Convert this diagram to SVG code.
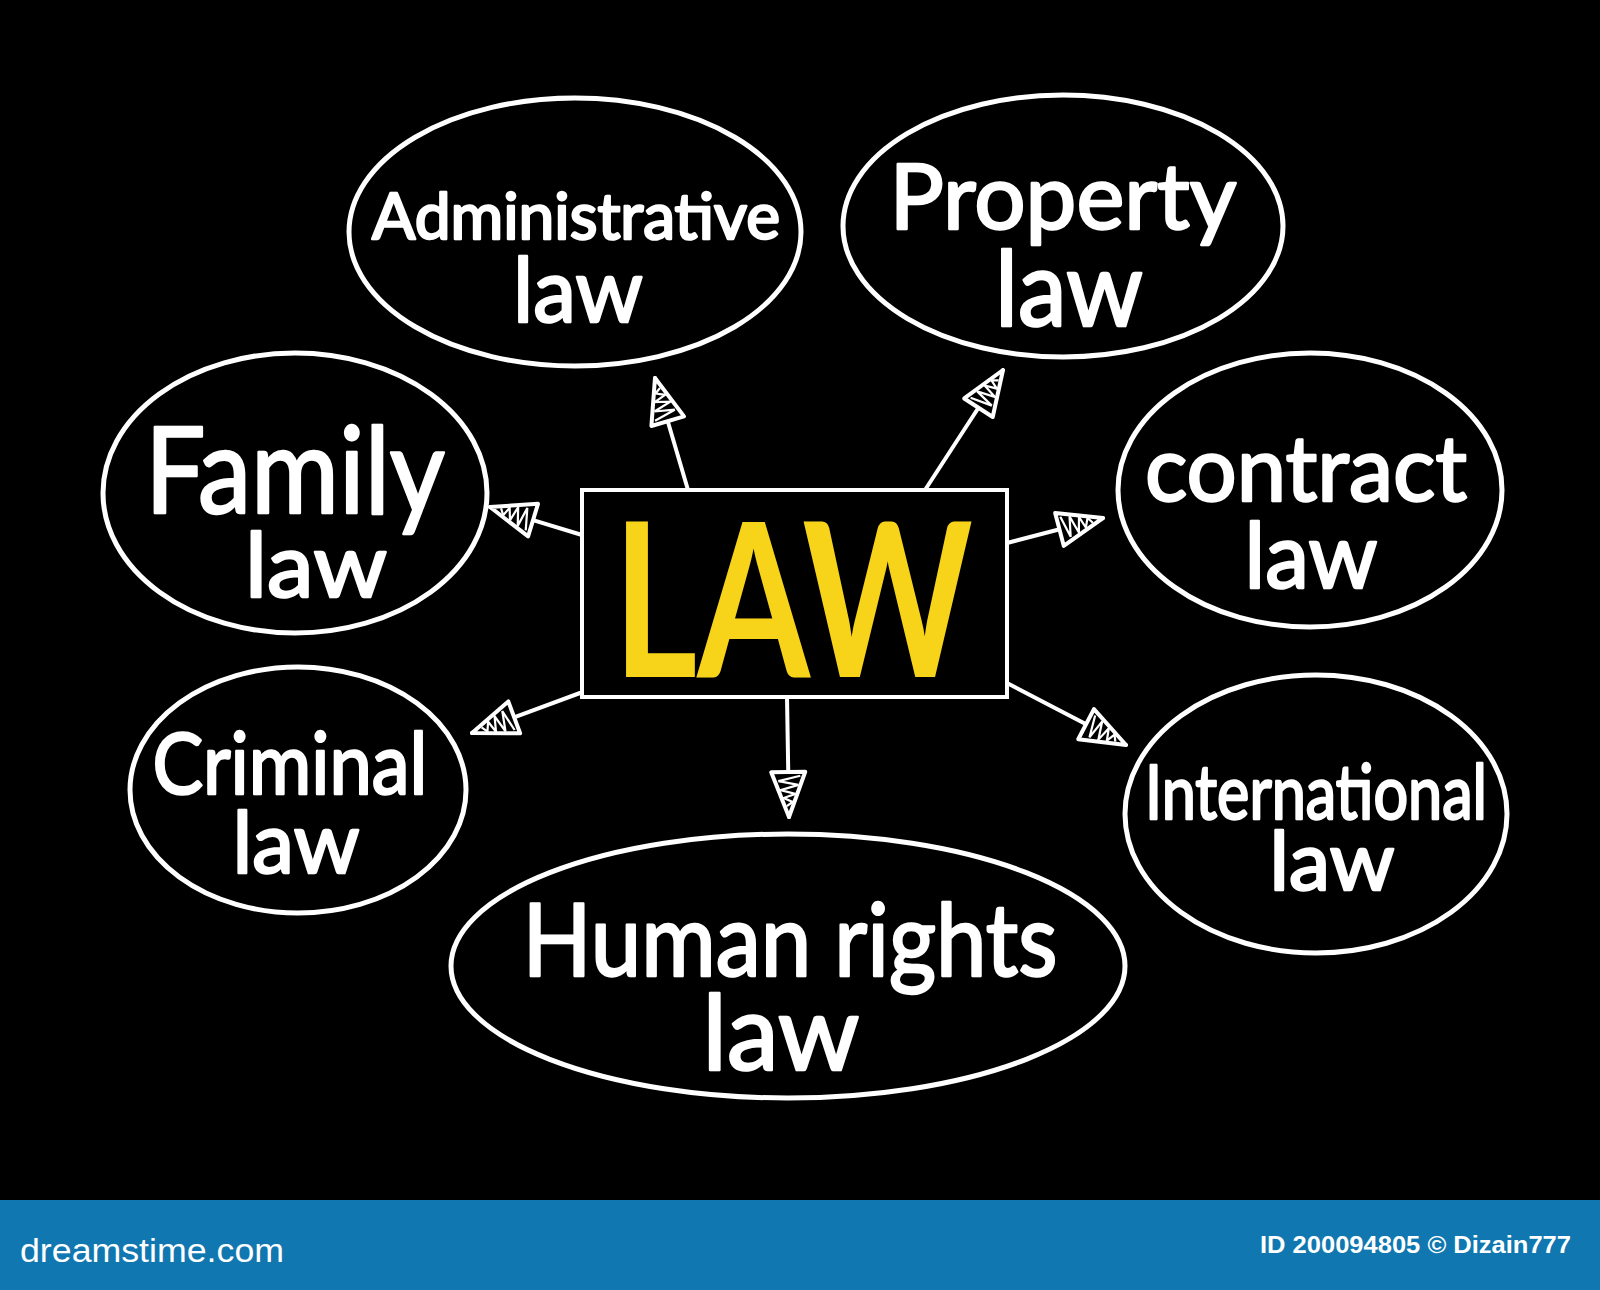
<svg xmlns="http://www.w3.org/2000/svg" width="1600" height="1290" viewBox="0 0 1600 1290">
<style>
.node ellipse{fill:none;stroke:#fff;stroke-width:5}
.lbl{fill:#fff;stroke:#fff;stroke-width:2.5;stroke-linejoin:round;font-family:"Lato","Open Sans","DejaVu Sans",sans-serif;font-weight:400;text-anchor:middle}
.conn line{stroke:#fff;stroke-width:4;stroke-linecap:round;marker-end:url(#ah)}
.foot{fill:#fff;font-family:"Liberation Sans","DejaVu Sans",sans-serif}
</style>
<defs>
<marker id="ah" viewBox="0 0 50 40" refX="48" refY="20" markerWidth="50" markerHeight="40" markerUnits="userSpaceOnUse" orient="auto">
<path d="M3,3 L48,20 L3,37 Z" fill="#000" stroke="#fff" stroke-width="4" stroke-linejoin="round"/>
<path d="M7,8 L12,30 L16,10 L21,28 L25,13 L29,25 L33,16 L37,22" fill="none" stroke="#fff" stroke-width="2.2"/>
</marker>
</defs>
<rect x="0" y="0" width="1600" height="1290" fill="#000"/>

<g id="connectors" class="conn">
<line x1="688" y1="490" x2="655" y2="378"/>
<line x1="925" y1="490" x2="1003" y2="370"/>
<line x1="582" y1="535" x2="490" y2="507"/>
<line x1="1007" y1="543" x2="1103" y2="518"/>
<line x1="580" y1="693" x2="472" y2="733"/>
<line x1="1007" y1="683" x2="1126" y2="745"/>
<line x1="787" y1="697" x2="789" y2="817"/>
</g>

<g id="law">
<rect x="582" y="490" width="425" height="207" fill="#000" stroke="#fff" stroke-width="4"/>
<text x="793" y="677" font-family="Lato,'Open Sans','DejaVu Sans',sans-serif" font-weight="700" font-size="215" fill="#f7d419" text-anchor="middle" textLength="360" lengthAdjust="spacingAndGlyphs">LAW</text>
</g>

<g id="administrative" class="node">
<ellipse cx="575" cy="232" rx="226" ry="134"/>
<text class="lbl"><tspan x="576" y="239" font-size="64" textLength="408" lengthAdjust="spacingAndGlyphs">Administrative</tspan><tspan x="578" y="322" font-size="90" textLength="130" lengthAdjust="spacingAndGlyphs">law</tspan></text>
</g>

<g id="property" class="node">
<ellipse cx="1063" cy="226" rx="220" ry="131"/>
<text class="lbl"><tspan x="1063" y="229" font-size="92" textLength="347" lengthAdjust="spacingAndGlyphs">Property</tspan><tspan x="1069" y="326" font-size="104" textLength="148" lengthAdjust="spacingAndGlyphs">law</tspan></text>
</g>

<g id="family" class="node">
<ellipse cx="295" cy="493" rx="192" ry="140"/>
<text class="lbl"><tspan x="295" y="513" font-size="120" textLength="300" lengthAdjust="spacingAndGlyphs">Family</tspan><tspan x="316" y="597" font-size="90" textLength="142" lengthAdjust="spacingAndGlyphs">law</tspan></text>
</g>

<g id="contract" class="node">
<ellipse cx="1310" cy="490" rx="192" ry="137"/>
<text class="lbl"><tspan x="1306" y="501" font-size="92" textLength="322" lengthAdjust="spacingAndGlyphs">contract</tspan><tspan x="1311" y="588" font-size="92" textLength="133" lengthAdjust="spacingAndGlyphs">law</tspan></text>
</g>

<g id="criminal" class="node">
<ellipse cx="298" cy="790" rx="168" ry="123"/>
<text class="lbl"><tspan x="290" y="794" font-size="86" textLength="275" lengthAdjust="spacingAndGlyphs">Criminal</tspan><tspan x="296" y="873" font-size="86" textLength="127" lengthAdjust="spacingAndGlyphs">law</tspan></text>
</g>

<g id="international" class="node">
<ellipse cx="1316" cy="814" rx="191" ry="139"/>
<text class="lbl"><tspan x="1316" y="819" font-size="76" textLength="342" lengthAdjust="spacingAndGlyphs">International</tspan><tspan x="1332" y="890" font-size="82" textLength="125" lengthAdjust="spacingAndGlyphs">law</tspan></text>
</g>

<g id="human-rights" class="node">
<ellipse cx="788" cy="966" rx="337" ry="132"/>
<text class="lbl"><tspan x="790" y="976" font-size="100" textLength="535" lengthAdjust="spacingAndGlyphs">Human rights</tspan><tspan x="781" y="1070" font-size="104" textLength="157" lengthAdjust="spacingAndGlyphs">law</tspan></text>
</g>

<g id="footer">
<rect x="0" y="1200" width="1600" height="90" fill="#1077b0"/>
<text class="foot" x="20" y="1262" font-size="34" textLength="264" lengthAdjust="spacingAndGlyphs">dreamstime.com</text>
<text class="foot" x="1571" y="1253" font-size="24" font-weight="700" text-anchor="end" textLength="311" lengthAdjust="spacingAndGlyphs">ID 200094805 © Dizain777</text>
</g>
</svg>
